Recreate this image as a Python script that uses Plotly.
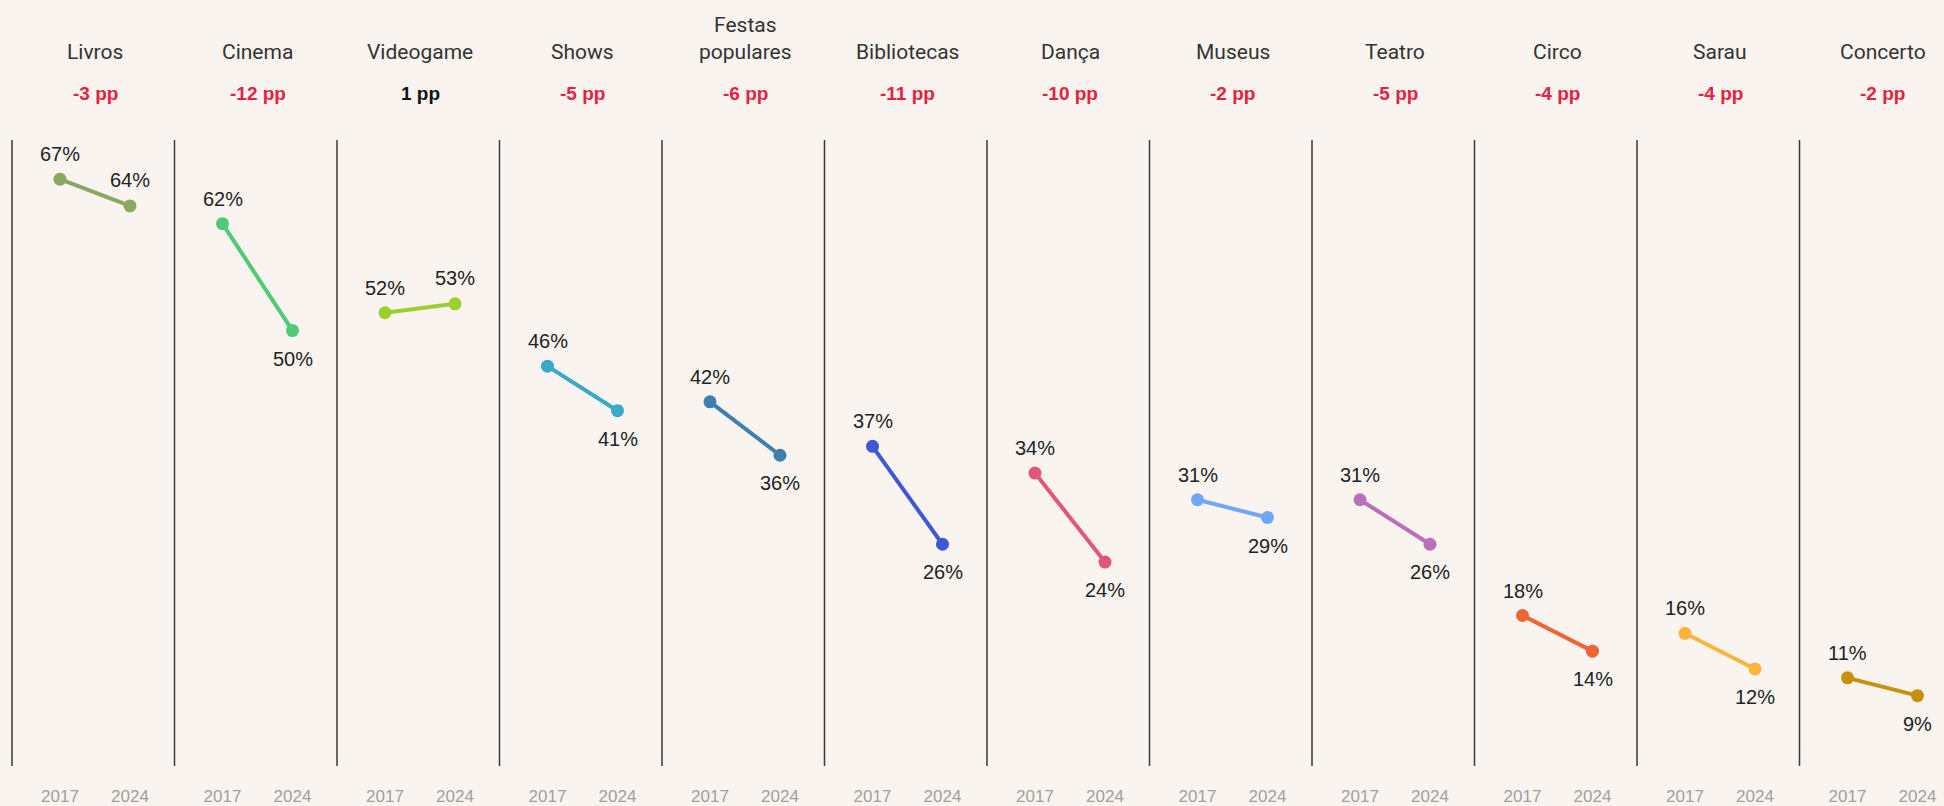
import plotly.graph_objects as go

# ── Data ─────────────────────────────────────────────────────────────────────
CATEGORIES = ["Livros", "Cinema", "Videogame", "Shows", "Festas<br>populares",
              "Bibliotecas", "Dança", "Museus", "Teatro", "Circo", "Sarau", "Concerto"]
YEARS = [2017, 2024]
VALUES_2017 = [67, 62, 52, 46, 42, 37, 34, 31, 31, 18, 16, 11]
VALUES_2024 = [64, 50, 53, 41, 36, 26, 24, 29, 26, 14, 12, 9]

COLORS = ["#8aa862", "#4fcb78", "#9ccf2f", "#38a9c6", "#3f7fae", "#4058d6",
          "#e15779", "#6ea7f7", "#bb6fba", "#ee6432", "#fcb43b", "#c9900c"]

# panels whose 2024 label sits above the marker instead of below
LABEL_ABOVE_2024 = {"Livros", "Videogame"}

BG = "#f9f4f0"
RED = "#e8203f"
PANEL_W = 16.25      # panel width in x units
PANEL_X0 = 1.2       # left edge of first panel
YEAR_PAD = 4.8       # distance from panel edge to the first year


def xpos(i, year):
    return PANEL_X0 + PANEL_W * i + YEAR_PAD + (year - YEARS[0])


fig = go.Figure()
annotations = []
shapes = []
tickvals, ticktext = [], []

for i, name in enumerate(CATEGORIES):
    xs = [xpos(i, y) for y in YEARS]
    ys = [VALUES_2017[i], VALUES_2024[i]]
    fig.add_trace(go.Scatter(
        x=xs, y=ys, mode="lines+markers",
        line=dict(color=COLORS[i], width=4),
        marker=dict(color=COLORS[i], size=13),
        hoverinfo="skip",
    ))
    tickvals += xs
    ticktext += [str(y) for y in YEARS]

    # value labels
    annotations.append(dict(
        x=xs[0], y=ys[0], xref="x", yref="y", text=f"{ys[0]}%",
        showarrow=False, yshift=25, font=dict(size=20, color="#222"),
    ))
    plain = name.replace("<br>", " ")
    shift = 26 if plain in LABEL_ABOVE_2024 else -28
    annotations.append(dict(
        x=xs[1], y=ys[1], xref="x", yref="y", text=f"{ys[1]}%",
        showarrow=False, yshift=shift, font=dict(size=20, color="#222"),
    ))

    # panel title and change in pp
    xc = (xs[0] + xs[1]) / 2
    annotations.append(dict(
        x=xc, y=1, xref="x", yref="paper", text=name, showarrow=False,
        yanchor="bottom", yshift=74,
        font=dict(family="Roboto, sans-serif", size=21, color="#333"),
    ))
    diff = VALUES_2024[i] - VALUES_2017[i]
    annotations.append(dict(
        x=xc, y=1, xref="x", yref="paper", text=f"<b>{diff} pp</b>",
        showarrow=False, yanchor="middle", yshift=47,
        font=dict(size=19, color=RED if diff < 0 else "#111"),
    ))

    # separator line at the left edge of each panel
    xl = PANEL_X0 + PANEL_W * i
    shapes.append(dict(type="line", x0=xl, x1=xl, y0=0, y1=1,
                       xref="x", yref="paper",
                       line=dict(color="#3a3a3a", width=1.5)))

fig.update_layout(
    width=1944, height=806,
    paper_bgcolor=BG, plot_bgcolor=BG,
    font=dict(family="Liberation Sans, Arial, sans-serif", size=18, color="#222"),
    margin=dict(l=0, r=0, t=140, b=40),
    showlegend=False,
    annotations=annotations,
    shapes=shapes,
    xaxis=dict(
        range=[0, 194.4], showgrid=False, zeroline=False, showline=False,
        tickvals=tickvals, ticktext=ticktext, ticks="", ticklabelstandoff=18,
        tickfont=dict(size=17, color="#a0a0a0"),
    ),
    yaxis=dict(range=[1.1, 71.4], visible=False),
)

fig.write_html(
    "out.html",
    config={"displayModeBar": False},
    post_script=f"document.body.style.margin='0';document.body.style.background='{BG}';",
)
